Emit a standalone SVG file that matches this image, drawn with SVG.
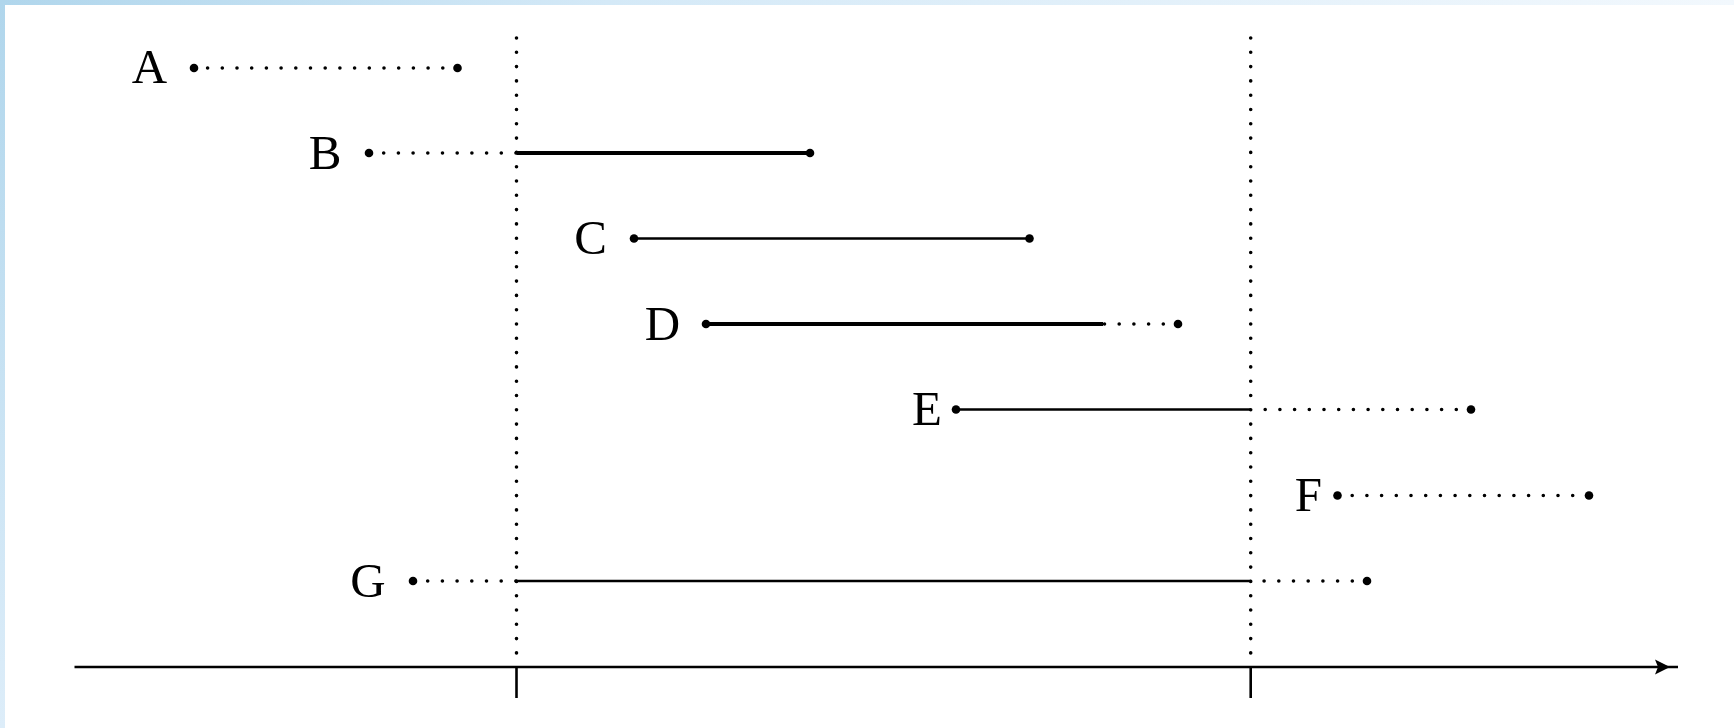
<svg xmlns="http://www.w3.org/2000/svg" width="1734" height="728" viewBox="0 0 1734 728">
  <defs>
    <linearGradient id="gTop" x1="0" y1="0" x2="1" y2="0">
      <stop offset="0" stop-color="#b0d6ec"/>
      <stop offset="0.35" stop-color="#d4e9f7"/>
      <stop offset="1" stop-color="#f2f8fd"/>
    </linearGradient>
    <linearGradient id="gLeft" x1="0" y1="0" x2="0" y2="1">
      <stop offset="0" stop-color="#b0d6ec"/>
      <stop offset="1" stop-color="#ddedf9"/>
    </linearGradient>
    <style>
      .lbl { font-family: "Liberation Serif", "DejaVu Serif", serif; font-size: 49px; fill: #000; text-anchor: middle; }
      .dot { stroke: #000; stroke-width: 3.6; stroke-linecap: round; stroke-dasharray: 0 14.7; fill: none; }
      .vdot { stroke: #000; stroke-width: 3.6; stroke-linecap: round; stroke-dasharray: 0 14.3; fill: none; }
      .thin { stroke: #000; stroke-width: 2.6; fill: none; }
      .thick { stroke: #000; stroke-width: 4; fill: none; }
      .end { fill: #000; }
      .axis { stroke: #000; stroke-width: 2.6; fill: none; }
    </style>
  </defs>
  <rect x="0" y="0" width="1734" height="728" fill="#ffffff"/>
  <rect x="0" y="0" width="1734" height="5" fill="url(#gTop)"/>
  <rect x="0" y="0" width="5" height="728" fill="url(#gLeft)"/>

  <g id="guides">
    <path class="vdot" d="M516.5,38 V667"/>
    <path class="vdot" d="M1250.7,38 V667"/>
  </g>

  <g id="axis">
    <path class="axis" d="M74.5,667 H1678"/>
    <path d="M1655,659.5 L1670,667 L1655,674.5 L1658,667 Z" fill="#000"/>
    <path class="axis" d="M516.5,667 V698"/>
    <path class="axis" d="M1250.7,667 V698"/>
  </g>

  <g id="connectors">
    <path class="dot" d="M457.5,68 H194"/>
    <path class="dot" d="M369,153 H516.5"/>
    <path class="thick" d="M516.5,153 H810"/>
    <path class="thin" d="M634,238.5 H1029.5"/>
    <path class="thick" d="M706,324 H1103"/>
    <path class="dot" d="M1178,324 H1103"/>
    <path class="thin" d="M956,409.5 H1250.7"/>
    <path class="dot" d="M1471,409.5 H1250.7"/>
    <path class="dot" d="M1337.5,495.5 H1589"/>
    <path class="dot" d="M413,581 H516.5"/>
    <path class="thin" d="M516.5,581 H1250.7"/>
    <path class="dot" d="M1367,581 H1250.7"/>
  </g>

  <g id="A">
    <text class="lbl" x="149.5" y="83">A</text>
    <circle class="end" cx="194" cy="68" r="4.3"/>
    <circle class="end" cx="457.5" cy="68" r="4.3"/>
  </g>
  <g id="B">
    <text class="lbl" x="325" y="168.5">B</text>
    <circle class="end" cx="369" cy="153" r="4.3"/>
    <circle class="end" cx="810" cy="153" r="4.3"/>
  </g>
  <g id="C">
    <text class="lbl" x="590.5" y="254">C</text>
    <circle class="end" cx="634" cy="238.5" r="4.3"/>
    <circle class="end" cx="1029.5" cy="238.5" r="4.3"/>
  </g>
  <g id="D">
    <text class="lbl" x="662.5" y="339.5">D</text>
    <circle class="end" cx="706" cy="324" r="4.3"/>
    <circle class="end" cx="1178" cy="324" r="4.3"/>
  </g>
  <g id="E">
    <text class="lbl" x="927" y="425">E</text>
    <circle class="end" cx="956" cy="409.5" r="4.3"/>
    <circle class="end" cx="1471" cy="409.5" r="4.3"/>
  </g>
  <g id="F">
    <text class="lbl" x="1308.5" y="510.5">F</text>
    <circle class="end" cx="1337.5" cy="495.5" r="4.3"/>
    <circle class="end" cx="1589" cy="495.5" r="4.3"/>
  </g>
  <g id="G">
    <text class="lbl" x="368" y="597">G</text>
    <circle class="end" cx="413" cy="581" r="4.3"/>
    <circle class="end" cx="1367" cy="581" r="4.3"/>
  </g>
</svg>
